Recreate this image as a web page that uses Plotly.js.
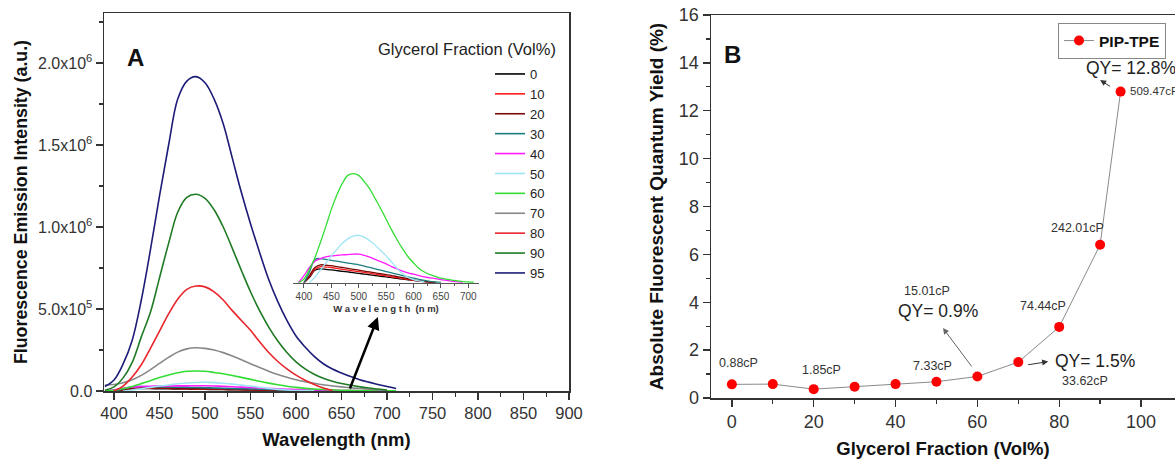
<!DOCTYPE html>
<html>
<head>
<meta charset="utf-8">
<script src="https://cdn.plot.ly/plotly-3.0.1.min.js"></script>
<style>html,body{margin:0;padding:0;background:#fff;}#chart{width:1175px;height:459px;}</style>
</head>
<body>
<div id="chart"></div>
<script>
// ---------- Panel A data: emission spectra (intensity in 10^3 a.u.) ----------
var wavelength = [390,400,410,420,430,440,450,460,470,480,490,500,510,520,530,540,550,560,570,580,590,600,610,620,630,640,650,660,670,680,690,700,710];
var glycerolLabels = ['0','10','20','30','40','50','60','70','80','90','95'];
var s0  = [null,0,6,14,15.5,15,14.3,13.5,12.7,12,11.2,10.4,9.6,8.8,8,7.2,6.4,5.6,4.8,4,3.2,2.5,1.8,1.1,0.5,0.1,null,null,null,null,null,null,null];
var s10 = [null,0,7,15,18,17.5,17,16,15,14,13.2,12.4,11.5,10.6,9.6,8.6,7.6,6.6,5.6,4.6,3.6,2.7,1.9,1.2,0.6,0.2,null,null,null,null,null,null,null];
var s20 = [null,0,8,17,20,19.5,19,18,17,16,15,14,13,12,11,10,9,8,6.8,5.6,4.4,3.2,2.2,1.4,0.7,0.2,null,null,null,null,null,null,null];
var s30 = [null,0,12,26,27,26,25,24,23,22,21,20,18.5,17,15.5,14,12.5,11,9.5,8,6.5,5,3.8,2.6,1.6,0.8,0.3,null,null,null,null,null,null];
var s40 = [0,8,17,24,27,29,30,30.5,31,31.5,32,32,30.5,28.5,26,23.5,21,18,15.5,13,11,9.5,8,6.5,5.5,4.5,3.5,2.5,1.7,1,0.5,null,null];
var s50 = [null,null,0,6,14,22,30,37,44,49,52,53,51,47,42,36,30,23,16,10,6,3.5,2,1,null,null,null,null,null,null,null,null,null];
var s60 = [0,4,15,28,45,63,82,98,111,120,122,120,113,105,94,83,71,59,48,38,29,22,16,12,9,7,5,4,3,2,1.3,0.8,0.5];
var s70 = [37,40,50,68,95,130,168,205,237,257,264,260,250,234,213,190,166,143,121,101,84,69,57,47,38,31,25,20,15,11,7,4,null];
var s80 = [null,0,30,85,160,260,365,470,560,620,640,635,605,555,490,430,370,300,235,180,135,97,66,40,18,3,null,null,null,null,null,null,null];
var s90 = [5,25,80,175,330,480,690,900,1090,1180,1200,1175,1105,1000,870,735,605,490,390,305,235,178,135,102,78,60,46,35,26,18,12,6,null];
var s95 = [27,67,165,310,555,860,1190,1500,1780,1890,1917,1880,1780,1630,1420,1210,1020,845,680,545,430,335,268,211,166,134,110,88,69,54,40,27,15];
var seriesA = [s0,s10,s20,s30,s40,s50,s60,s70,s80,s90,s95];
var colorsA = ['#000000','#ff1a1a','#7a0a0a','#1a7f80','#ff1aff','#9fe4f5','#33dd33','#888888','#e8262b','#1f7a24','#1c1c78'];
var insetCount = 7; // series 0..60 shown in the inset
var yTickValsA = [0,5e5,1e6,1.5e6,2e6];
var yTickTextA = ['0.0','5.0x10<sup>5</sup>','1.0x10<sup>6</sup>','1.5x10<sup>6</sup>','2.0x10<sup>6</sup>'];

// ---------- Panel B data ----------
var glycerolFraction = [0,10,20,30,40,50,60,70,80,90,95];
var quantumYield = [0.57,0.58,0.37,0.47,0.58,0.68,0.9,1.5,2.97,6.4,12.8];
var viscLabels = ['0.88cP','1.85cP','7.33cP','15.01cP','74.44cP','242.01cP','33.62cP','509.47cP'];
var qyLabels = ['QY= 0.9%','QY= 1.5%','QY= 12.8%'];

var FONT = 'Liberation Sans, Arial, sans-serif';
var TXT = '#333333';
function k(arr){ return arr.map(function(v){ return v === null ? null : v*1000; }); }

var traces = [];
seriesA.forEach(function(s, i){
  traces.push({x: wavelength, y: k(s), type:'scatter', mode:'lines', name: glycerolLabels[i],
    line:{color: colorsA[i], width:1.6, shape:'spline'}, xaxis:'x', yaxis:'y', legend:'legend', connectgaps:false});
});
seriesA.slice(0, insetCount).forEach(function(s, i){
  traces.push({x: wavelength, y: k(s), type:'scatter', mode:'lines', name: glycerolLabels[i], showlegend:false,
    line:{color: colorsA[i], width:1.3, shape:'spline'}, xaxis:'x3', yaxis:'y3'});
});
traces.push({x: glycerolFraction, y: quantumYield, type:'scatter', mode:'lines+markers', name:'<b>PIP-TPE</b>',
  line:{color:'#8a8a8a', width:1}, marker:{color:'#ff0000', size:10}, xaxis:'x2', yaxis:'y2', legend:'legend2'});

var axisCommon = {showgrid:false, zeroline:false, showline:true, linecolor:'#333', linewidth:1.5,
  ticks:'outside', tickcolor:'#333', tickwidth:1.3, ticklen:7};

var layout = {
  width:1175, height:459, paper_bgcolor:'#fff', plot_bgcolor:'rgba(0,0,0,0)',
  margin:{l:0,r:0,t:0,b:0, autoexpand:false},
  font:{family:FONT, color:TXT},
  xaxis: Object.assign({}, axisCommon, {domain:[104/1175, 569/1175], range:[389,900], anchor:'y', mirror:true,
    tick0:400, dtick:50, minor:{dtick:25, ticks:'outside', ticklen:4, tickcolor:'#333'},
    tickfont:{size:16.5, color:TXT}, title:{text:'<b>Wavelength (nm)</b>', font:{size:18.5, color:'#111'}, standoff:12}}),
  yaxis: Object.assign({}, axisCommon, {domain:[68/459, 446/459], range:[0, 2.305e6], anchor:'x', mirror:true,
    tickmode:'array', tickvals:yTickValsA, ticktext:yTickTextA,
    minor:{tickvals:[2.5e5,7.5e5,1.25e6,1.75e6,2.25e6], ticks:'outside', ticklen:4, tickcolor:'#333'},
    tickfont:{size:16, color:TXT}, title:{text:'<b>Fluorescence Emission Intensity (a.u.)</b>', font:{size:17.8, color:'#111'}, standoff:6}}),
  xaxis3: {domain:[293/1175, 479/1175], range:[380,719.5], anchor:'y3', showgrid:false, zeroline:false,
    showline:true, linecolor:'#555', linewidth:1.3, ticks:'outside', ticklen:4, tickcolor:'#555',
    tick0:400, dtick:50, minor:{dtick:25, ticks:'outside', ticklen:2, tickcolor:'#555'},
    tickfont:{size:10, color:'#444'}, title:{text:'<b>W a v e l e n g t h  (n m)</b>', font:{size:9.5, color:'#333'}, standoff:4}},
  yaxis3: {domain:[176.3/459, 289/459], range:[0,126000], anchor:'x3', visible:false, showgrid:false, zeroline:false},
  xaxis2: Object.assign({}, axisCommon, {domain:[711/1175, 1], range:[-5.1,108.3], anchor:'y2', mirror:true,
    tick0:0, dtick:20, minor:{dtick:10, ticks:'outside', ticklen:4, tickcolor:'#333'},
    tickfont:{size:18, color:TXT}, title:{text:'<b>Glycerol Fraction (Vol%)</b>', font:{size:18.5, color:'#111'}, standoff:14}}),
  yaxis2: Object.assign({}, axisCommon, {domain:[61/459, 444/459], range:[0,16], anchor:'x2', mirror:false,
    tick0:0, dtick:2, minor:{dtick:1, ticks:'outside', ticklen:4, tickcolor:'#333'},
    tickfont:{size:18, color:TXT}, title:{text:'<b>Absolute Fluorescent Quantum Yield (%)</b>', font:{size:19, color:'#111'}, standoff:10}}),
  legend: {x:490/1175, y:(459-59)/459, xanchor:'left', yanchor:'top', bgcolor:'rgba(0,0,0,0)', borderwidth:0,
    font:{size:13, color:'#222'}, tracegroupgap:0},
  legend2: {x:1058/1175, y:(459-23)/459, xanchor:'left', yanchor:'top', bgcolor:'#fff', bordercolor:'#888', borderwidth:1,
    font:{size:15.5, color:'#111'}},
  annotations: [
    {text:'<b>A</b>', xref:'paper', yref:'paper', x:125/1175, y:(459-42)/459, showarrow:false, font:{size:24, color:'#111'}},
    {text:'Glycerol Fraction (Vol%)', xref:'paper', yref:'paper', x:558/1175, y:(459-38)/459, xanchor:'right', showarrow:false, font:{size:16.5, color:'#222'}},
    {text:'', xref:'x', yref:'y', x:690, y:451000, axref:'x', ayref:'y', ax:658.6, ay:6000, showarrow:true,
      arrowhead:2, arrowsize:1, arrowwidth:2.5, arrowcolor:'#000'},
    {text:'<b>B</b>', xref:'paper', yref:'paper', x:732/1175, y:(459-39)/459, showarrow:false, font:{size:24, color:'#111'}},
    {text:viscLabels[0], xref:'x2', yref:'y2', x:1.5, y:1.46, showarrow:false, font:{size:12.5, color:'#333'}},
    {text:viscLabels[1], xref:'x2', yref:'y2', x:22.0, y:1.17, showarrow:false, font:{size:12.5, color:'#333'}},
    {text:viscLabels[2], xref:'x2', yref:'y2', x:49.1, y:1.34, showarrow:false, font:{size:12.5, color:'#333'}},
    {text:viscLabels[3], xref:'x2', yref:'y2', x:47.7, y:4.47, showarrow:false, font:{size:12.5, color:'#333'}},
    {text:viscLabels[4], xref:'x2', yref:'y2', x:76.0, y:3.84, showarrow:false, font:{size:12.5, color:'#333'}},
    {text:viscLabels[5], xref:'x2', yref:'y2', x:84.4, y:7.10, showarrow:false, font:{size:12.5, color:'#333'}},
    {text:viscLabels[6], xref:'x2', yref:'y2', x:86.3, y:0.71, showarrow:false, font:{size:12.5, color:'#333'}},
    {text:viscLabels[7], xref:'x2', yref:'y2', x:96.8, y:12.82, xanchor:'left', showarrow:false, font:{size:11.5, color:'#333'}},
    {text:qyLabels[0], xref:'x2', yref:'y2', x:50.4, y:3.63, showarrow:false, font:{size:17.5, color:'#222'}},
    {text:qyLabels[1], xref:'x2', yref:'y2', x:78.5, y:1.55, xanchor:'left', showarrow:false, font:{size:17.5, color:'#222'}},
    {text:qyLabels[2], xref:'x2', yref:'y2', x:86.1, y:13.78, xanchor:'left', showarrow:false, font:{size:17.5, color:'#222'}},
    {text:'', xref:'x2', yref:'y2', x:51.6, y:2.92, axref:'x2', ayref:'y2', ax:58.9, ay:1.25, showarrow:true,
      arrowhead:2, arrowsize:1.2, arrowwidth:1, arrowcolor:'#666'},
    {text:'', xref:'x2', yref:'y2', x:77.3, y:1.52, axref:'x2', ayref:'y2', ax:72.05, ay:1.38, showarrow:true,
      arrowhead:2, arrowsize:1.2, arrowwidth:1, arrowcolor:'#333'},
    {text:'', xref:'x2', yref:'y2', x:90.0, y:13.28, axref:'x2', ayref:'y2', ax:92.8, ay:12.98, showarrow:true,
      arrowhead:2, arrowsize:1.2, arrowwidth:1, arrowcolor:'#333'}
  ]
};

Plotly.newPlot('chart', traces, layout, {displayModeBar:false, staticPlot:true});
</script>
</body>
</html>
